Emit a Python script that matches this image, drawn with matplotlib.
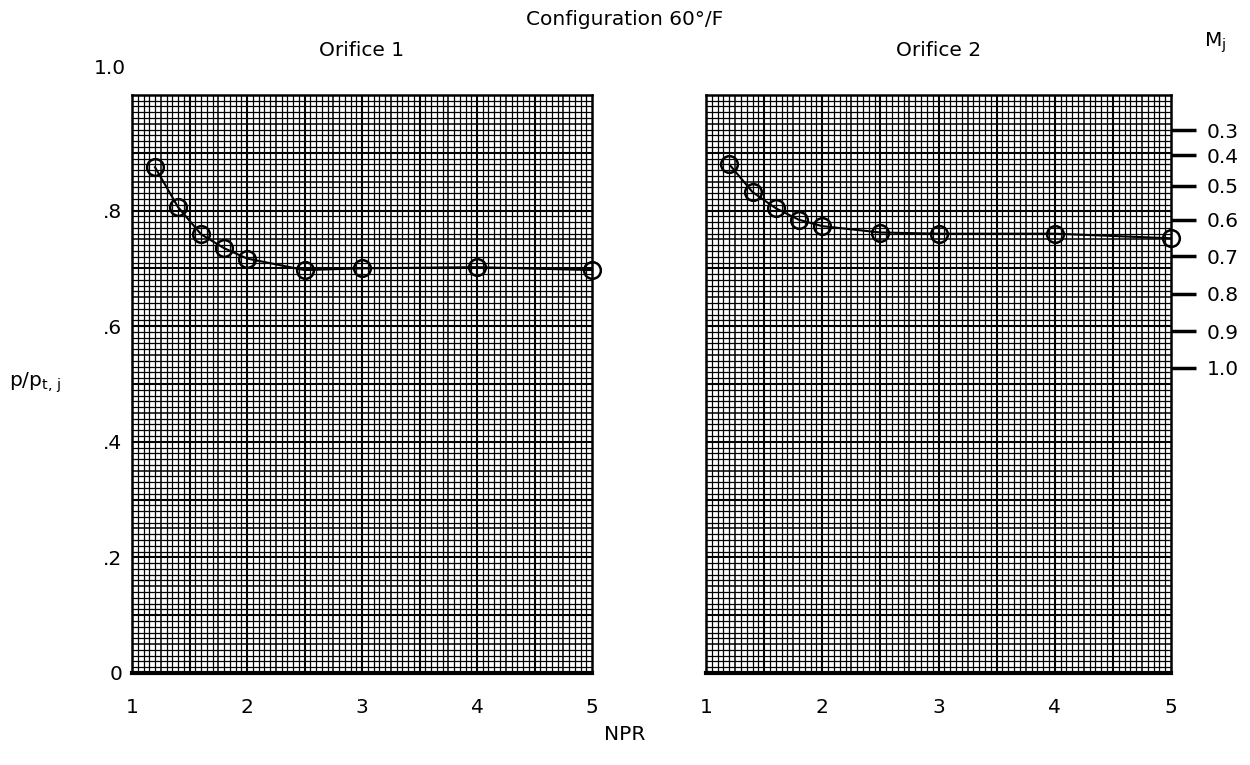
import numpy as np
import matplotlib.pyplot as plt

npr = [1.2, 1.4, 1.6, 1.8, 2.0, 2.5, 3.0, 4.0, 5.0]
p_orifice1 = [0.875, 0.806, 0.759, 0.735, 0.717, 0.697, 0.700, 0.702, 0.697]
p_orifice2 = [0.880, 0.832, 0.804, 0.784, 0.773, 0.762, 0.760, 0.760, 0.752]

# jet Mach number scale on the right side (p/pt,j position of each label)
mj_labels = ["0.3", "0.4", "0.5", "0.6", "0.7", "0.8", "0.9", "1.0"]
mj_pos = [0.939, 0.896, 0.843, 0.784, 0.721, 0.656, 0.591, 0.528]

x_ticks = [1, 2, 3, 4, 5]
y_ticks = [0, 0.2, 0.4, 0.6, 0.8]
y_ticklabels = ["0", ".2", ".4", ".6", ".8"]

FS = 14.5


def graph_paper(ax):
    # fine lines every 0.05 in x and 0.01 in y, heavier every 5 and 10
    for i in range(1, 80):
        x = 1 + i * 0.05
        lw = 1.5 if i % 10 == 0 else (1.1 if i % 5 == 0 else 0.9)
        ax.axvline(x, color="black", lw=lw, zorder=1)
    for i in range(1, 100):
        y = i * 0.01
        lw = 1.5 if i % 10 == 0 else (1.1 if i % 5 == 0 else 0.9)
        ax.axhline(y, color="black", lw=lw, zorder=1)
    ax.set_xlim(1, 5)
    ax.set_ylim(0, 1.0)
    for s in ax.spines.values():
        s.set_linewidth(1.8)
    ax.spines["bottom"].set_linewidth(3)
    ax.set_xticks(x_ticks)
    ax.set_xticklabels([str(v) for v in x_ticks], fontsize=FS)
    ax.tick_params(axis="both", length=0, pad=18)


def plot_data(ax, y):
    ax.plot(npr, y, color="black", lw=1.5, marker="o", markersize=12,
            markerfacecolor="none", markeredgecolor="black",
            markeredgewidth=1.8, zorder=3, clip_on=False)


fig = plt.figure(figsize=(12.5, 7.65), dpi=100)
ax1 = fig.add_axes([0.1056, 0.1203, 0.368, 0.7556])
ax2 = fig.add_axes([0.5648, 0.1203, 0.372, 0.7556])

graph_paper(ax1)
graph_paper(ax2)
plot_data(ax1, p_orifice1)
plot_data(ax2, p_orifice2)

ax1.set_yticks(y_ticks)
ax1.set_yticklabels(y_ticklabels, fontsize=FS)
ax1.tick_params(axis="y", pad=7)
ax1.text(-0.014, 1.045, "1.0", transform=ax1.get_yaxis_transform(),
         ha="right", va="center", fontsize=FS)
ax2.set_yticks([])

# Mj scale
sec = ax2.twinx()
sec.set_ylim(0, 1.0)
sec.set_yticks(mj_pos)
sec.set_yticklabels(mj_labels, fontsize=FS)
sec.tick_params(axis="y", length=18, width=2.5, direction="out", pad=8)
for s in sec.spines.values():
    s.set_visible(False)
sec.text(1.095, 1.09, "M$_\\mathregular{j}$", transform=sec.transAxes,
         ha="center", va="center", fontsize=FS)

ax1.set_title("Orifice 1", fontsize=FS, pad=28)
ax2.set_title("Orifice 2", fontsize=FS, pad=28)
fig.text(0.5, 0.975, "Configuration 60°/F", ha="center", va="center", fontsize=FS)
fig.text(0.5, 0.04, "NPR", ha="center", va="center", fontsize=FS)
fig.text(0.028, 0.5, "p/p$_\\mathregular{t,\\,j}$", ha="center", va="center",
         fontsize=FS)

fig.savefig("out.png", dpi=100)
